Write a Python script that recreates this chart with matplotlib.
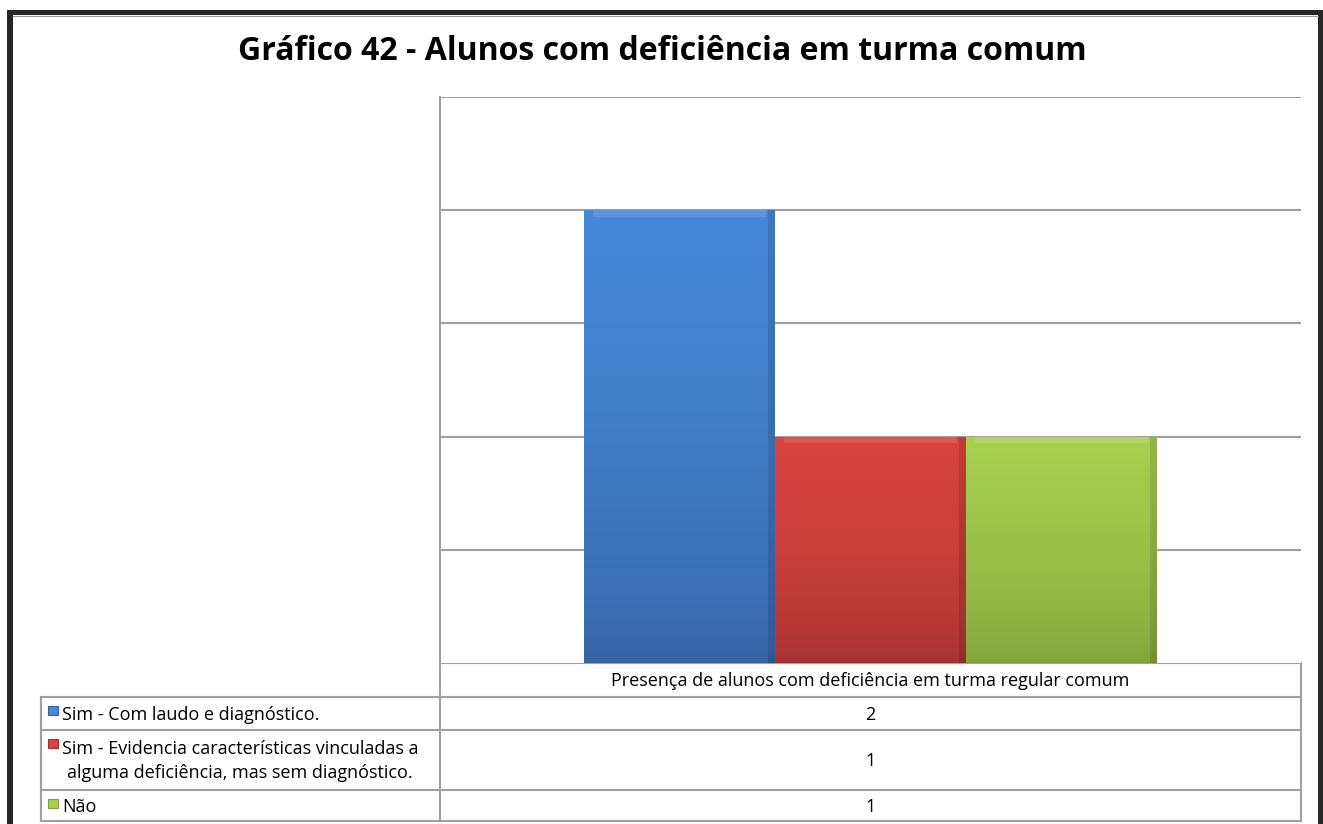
import numpy as np
import matplotlib.pyplot as plt
from matplotlib.colors import LinearSegmentedColormap
from matplotlib.patches import Rectangle

title = "Gráfico 42 - Alunos com deficiência em turma comum"
category = "Presença de alunos com deficiência em turma regular comum"
series = ["Sim - Com laudo e diagnóstico.",
          "Sim - Evidencia características vinculadas a\nalguma deficiência, mas sem diagnóstico.",
          "Não"]
values = [2, 1, 1]
top_colors = ["#4689d9", "#da4440", "#a8d050"]
bottom_colors = ["#3563a2", "#a33331", "#83a13a"]

W, H = 1323, 824
fig = plt.figure(figsize=(W / 100, H / 100), dpi=100)
fig.patch.set_facecolor("white")

# overlay axes in pixel units for frame and data table
ov = fig.add_axes([0, 0, 1, 1])
ov.set_xlim(0, W)
ov.set_ylim(H, 0)
ov.axis("off")

# dark outer frame
ov.add_patch(Rectangle((7, 10), W - 7, 5, color="#262626", lw=0))
ov.add_patch(Rectangle((7, 10), 6, H - 10, color="#262626", lw=0))
ov.add_patch(Rectangle((1318, 10), 5, H - 10, color="#262626", lw=0))
ov.plot([13, 1318], [16, 16], color="#9a9a9a", lw=0.8)

ov.text(662, 51, title, ha="center", va="center", fontsize=23,
        fontweight="bold", family="Open Sans", color="black")

# chart area
x0, x1, y0, y1 = 440, 1301, 97, 663
ax = fig.add_axes([x0 / W, 1 - y1 / H, (x1 - x0) / W, (y1 - y0) / H])
for s in ["right", "bottom", "top"]:
    ax.spines[s].set_visible(False)
ax.spines["left"].set_color("#a0a0a0")
ax.spines["left"].set_linewidth(1.5)
ax.set_xticks([])
ax.set_yticks([])
for g in np.arange(0.5, 2.51, 0.5):
    ax.axhline(g, color="#a0a0a0", lw=1.5, zorder=1)

bw = 191 / (x1 - x0)
offsets = [-bw, 0, bw]
for i, v in enumerate(values):
    left = offsets[i] - bw / 2
    cmap = LinearSegmentedColormap.from_list("g%d" % i, [bottom_colors[i], top_colors[i]])
    grad = np.linspace(0, 1, 256).reshape(-1, 1) ** 0.6
    im = ax.imshow(grad, cmap=cmap, origin="lower", aspect="auto",
                   extent=[left, left + bw, 0, v], zorder=2)
    r = Rectangle((left, 0), bw, v, facecolor="none", edgecolor="none")
    ax.add_patch(r)
    im.set_clip_path(r)
    # soft bevel on the top and right edges
    ax.add_patch(Rectangle((left + 0.01, v - 0.03), bw - 0.02, 0.03, facecolor="white",
                           alpha=0.12, lw=0, zorder=3))
    ax.add_patch(Rectangle((left + bw - 0.008, 0), 0.008, v, facecolor="black",
                           alpha=0.12, lw=0, zorder=3))
ax.set_xlim(-0.5, 0.5)
ax.set_ylim(0, 2.5)

# data table
lc = "#a0a0a0"
tl = 41
rows = [663, 697, 730, 790, 821]
ov.plot([x0, x1], [rows[0], rows[0]], color=lc, lw=1.5)
for yy in rows[1:]:
    ov.plot([tl, x1], [yy, yy], color=lc, lw=1.5)
ov.plot([x0, x0], [rows[0], rows[-1]], color=lc, lw=1.5)
ov.plot([x1, x1], [rows[0], rows[-1]], color=lc, lw=1.5)
ov.plot([tl, tl], [rows[1], rows[-1]], color=lc, lw=1.5)

tfont = dict(fontsize=13, family="Open Sans", color="black")
ov.text((x0 + x1) / 2, (rows[0] + rows[1]) / 2 + 1, category,
        ha="center", va="center", **tfont)
for i, v in enumerate(values):
    yc = (rows[i + 1] + rows[i + 2]) / 2 + 1
    ov.text((x0 + x1) / 2, yc, str(v), ha="center", va="center", **tfont)
    ytop = rows[i + 1] + 9
    ov.add_patch(Rectangle((48, ytop), 10, 9, facecolor=top_colors[i],
                           edgecolor=bottom_colors[i], lw=0.8))
    ov.text(62, yc, series[i], ha="left", va="center", multialignment="center",
            linespacing=1.4, **tfont)

fig.savefig("out.png", dpi=100)
